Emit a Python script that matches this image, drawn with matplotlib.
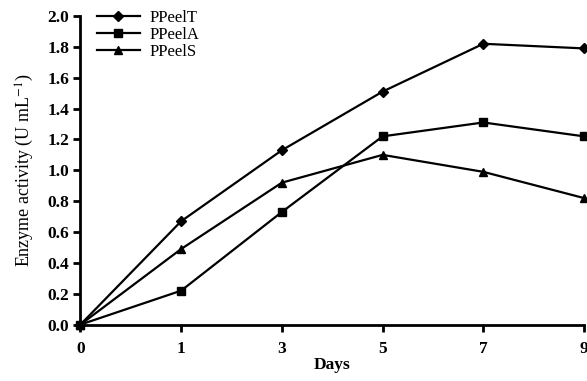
import matplotlib
matplotlib.use('Agg')
import matplotlib.pyplot as plt

days = ['0', '1', '3', '5', '7', '9']
ppeel_t = [0.0, 0.67, 1.13, 1.51, 1.82, 1.79]
ppeel_a = [0.0, 0.22, 0.73, 1.22, 1.31, 1.22]
ppeel_s = [0.0, 0.49, 0.92, 1.10, 0.99, 0.82]
y_ticks = [0.0, 0.2, 0.4, 0.6, 0.8, 1.0, 1.2, 1.4, 1.6, 1.8, 2.0]

plt.rcParams['font.family'] = ['Liberation Serif', 'DejaVu Serif']
plt.rcParams['mathtext.fontset'] = 'stix'

fig = plt.figure(figsize=(5.87, 3.81), dpi=100)
ax = fig.add_axes([0.137, 0.148, 0.858, 0.810])

x = list(range(len(days)))
ax.plot(x, ppeel_t, color='black', lw=1.6, marker='D', ms=5, label='PPeelT', clip_on=False)
ax.plot(x, ppeel_a, color='black', lw=1.6, marker='s', ms=6, label='PPeelA', clip_on=False)
ax.plot(x, ppeel_s, color='black', lw=1.6, marker='^', ms=6, label='PPeelS', clip_on=False)

ax.set_xlim(0, len(days) - 1)
ax.set_ylim(0, 2.0)
ax.set_xticks(x)
ax.set_xticklabels(days)
ax.set_yticks(y_ticks)
ax.set_yticklabels(['%.1f' % v for v in y_ticks])

for side in ['top', 'right']:
    ax.spines[side].set_visible(False)
for side in ['left', 'bottom']:
    ax.spines[side].set_linewidth(2)
ax.tick_params(axis='both', direction='out', length=5, width=2, labelsize=12.5)
ax.tick_params(axis='x', pad=7)
ax.tick_params(axis='y', pad=3)
for lbl in ax.get_xticklabels() + ax.get_yticklabels():
    lbl.set_fontweight('bold')

ax.set_xlabel('Days', fontsize=12.5, fontweight='bold', labelpad=0)
ax.set_ylabel('Enzyme activity (U mL$^{-1}$)', fontsize=13, labelpad=8)

ax.legend(loc='upper left', bbox_to_anchor=(0.019, 1.04), frameon=False, fontsize=12,
          handlelength=2.6, handletextpad=0.6, labelspacing=0.05, borderaxespad=0)

fig.savefig('out.png', dpi=100)
